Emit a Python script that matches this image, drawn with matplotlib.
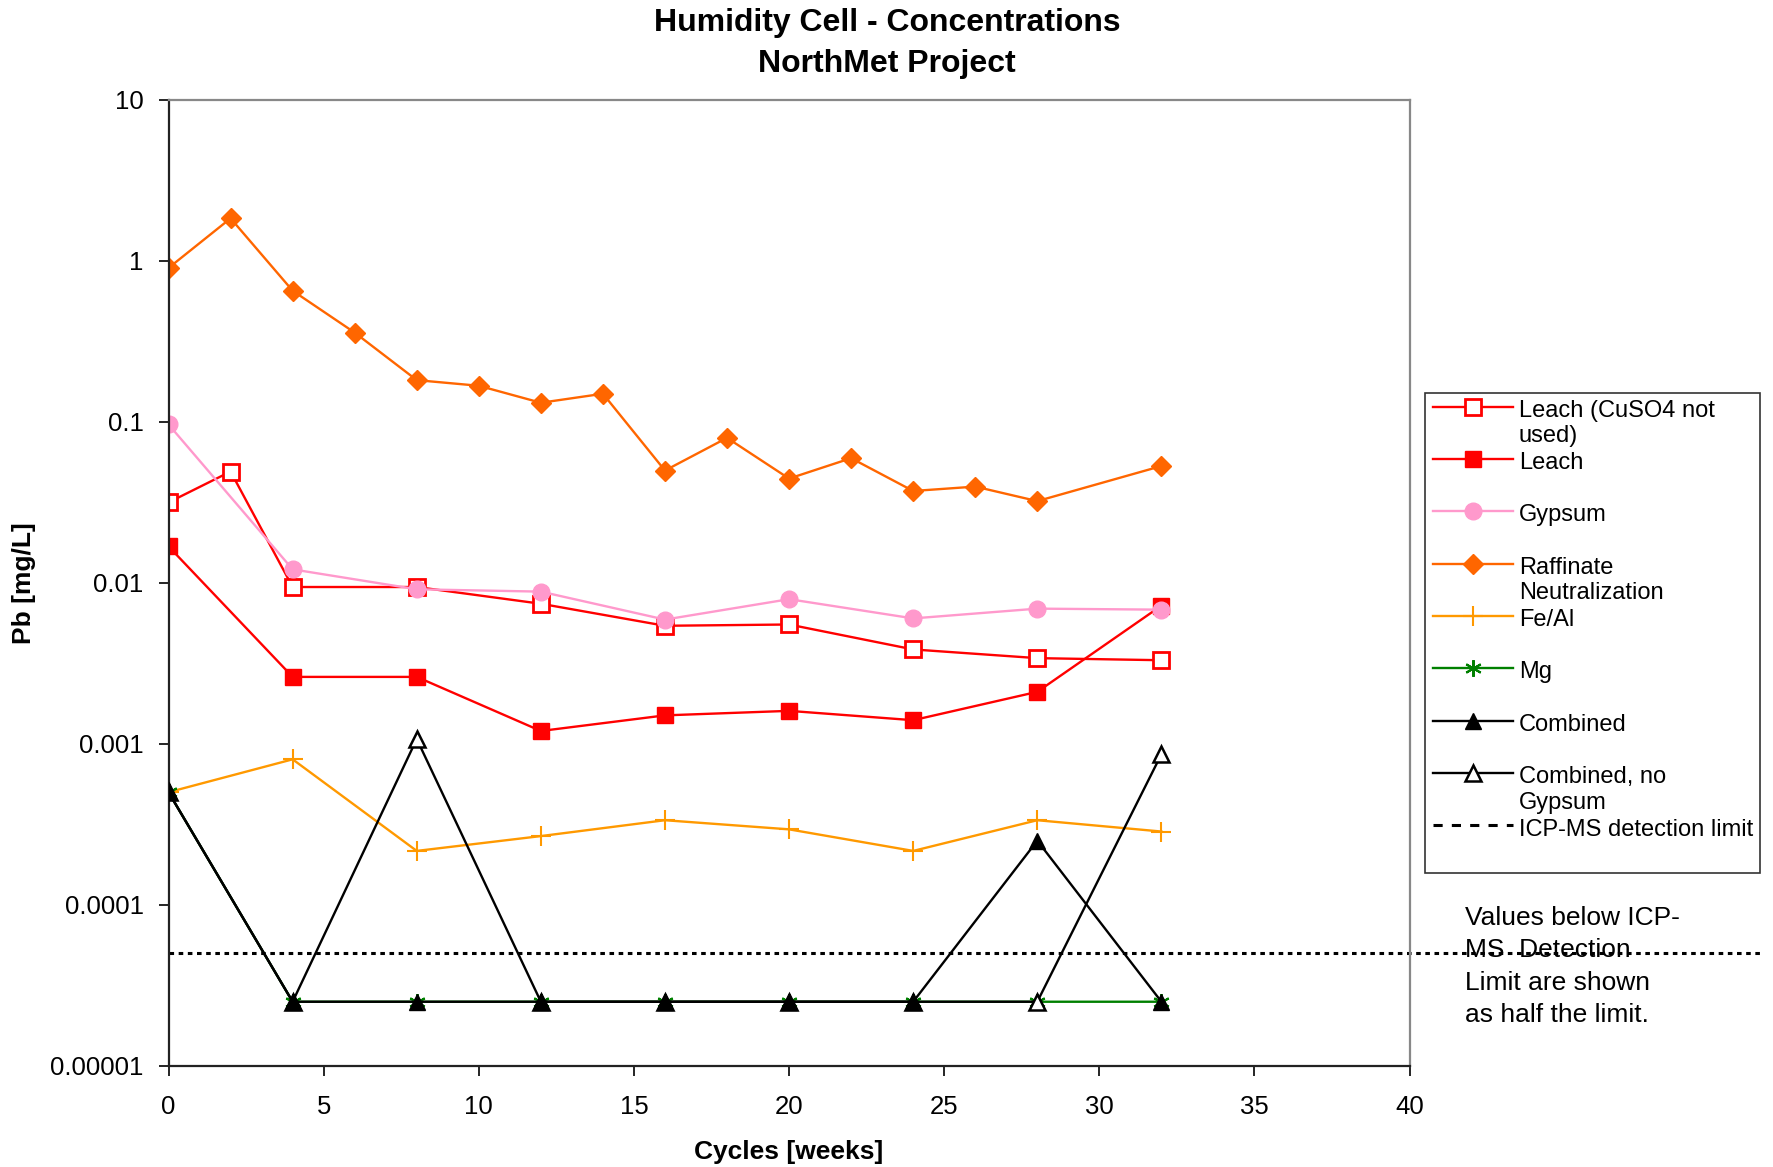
import matplotlib
matplotlib.use("Agg")
import numpy as np
import matplotlib.pyplot as plt
from matplotlib.lines import Line2D
from matplotlib.legend_handler import HandlerLine2D

plt.rcParams['font.family'] = ['Liberation Sans', 'DejaVu Sans']

# ---- data (Pb, mg/L) ----
x_leach_nocu = [0, 2, 4, 8, 12, 16, 20, 24, 28, 32]
y_leach_nocu = [0.0315, 0.049, 0.0094, 0.0094, 0.0074, 0.0054, 0.0055, 0.00385, 0.0034, 0.0033]

x_weekly = [0, 4, 8, 12, 16, 20, 24, 28, 32]
y_leach = [0.0168, 0.0026, 0.0026, 0.0012, 0.0015, 0.0016, 0.0014, 0.0021, 0.0072]
y_gypsum = [0.096, 0.0121, 0.0091, 0.0088, 0.0059, 0.0079, 0.0060, 0.0069, 0.0068]
y_feal = [0.0005, 0.0008, 0.000216, 0.000267, 0.000335, 0.000294, 0.000216, 0.000335, 0.000285]
y_mg = [0.0005, 0.000025, 0.000025, 0.000025, 0.000025, 0.000025, 0.000025, 0.000025, 0.000025]
y_combined = [0.0005, 0.000025, 0.000025, 0.000025, 0.000025, 0.000025, 0.000025, 0.00025, 0.000025]
y_comb_nogyp = [0.0005, 0.000025, 0.00107, 0.000025, 0.000025, 0.000025, 0.000025, 0.000025, 0.00086]

x_raff = [0, 2, 4, 6, 8, 10, 12, 14, 16, 18, 20, 22, 24, 26, 28, 32]
y_raff = [0.90, 1.83, 0.65, 0.357, 0.181, 0.167, 0.131, 0.149, 0.0497, 0.0793,
          0.0443, 0.0593, 0.0371, 0.0395, 0.0321, 0.053]

x_detect = [0, 51.3]
y_detect = [0.00005, 0.00005]

y_ticks = [10, 1, 0.1, 0.01, 0.001, 0.0001, 0.00001]
y_ticklabels = ['10', '1', '0.1', '0.01', '0.001', '0.0001', '0.00001']
x_ticks = [0, 5, 10, 15, 20, 25, 30, 35, 40]


# legend handle drawn level with the first line of a two-line label
class TopLineHandler(HandlerLine2D):
    def create_artists(self, legend, orig_handle, xdescent, ydescent,
                       width, height, fontsize, trans):
        artists = super().create_artists(legend, orig_handle, xdescent, ydescent,
                                         width, height, fontsize, trans)
        for a in artists:
            a.set_ydata(np.asarray(a.get_ydata()) + 0.72 * fontsize)
        return artists


# ---- figure ----
fig = plt.figure(figsize=(17.74, 11.67), dpi=100, facecolor='white')
ax = fig.add_axes([0.095, 0.0867, 0.6996, 0.828])

lw = 1.7
ax.plot(x_leach_nocu, y_leach_nocu, color='#FF0000', lw=lw, marker='s', ms=11,
        mfc='white', mec='#FF0000', mew=2, label='Leach (CuSO4 not\nused)')
ax.plot(x_weekly, y_leach, color='#FF0000', lw=lw, marker='s', ms=12,
        mfc='#FF0000', mec='#FF0000', label='Leach\n ')
ax.plot(x_weekly, y_gypsum, color='#FF99CC', lw=lw, marker='o', ms=12,
        mfc='#FF99CC', mec='#FF99CC', label='Gypsum\n ')
ax.plot(x_raff, y_raff, color='#FF6600', lw=lw, marker='D', ms=10,
        mfc='#FF6600', mec='#FF6600', label='Raffinate\nNeutralization')
ax.plot(x_weekly, y_feal, color='#FF9900', lw=lw, marker='+', ms=14, mew=1.5,
        label='Fe/Al\n ')
ax.plot(x_weekly, y_mg, color='#008000', lw=lw, marker=(6, 2, 0), ms=12, mew=1.5,
        label='Mg\n ')
# filled triangles sit on top of the open ones
ax.plot(x_weekly, y_combined, color='black', lw=lw, marker='^', ms=11,
        mfc='black', mec='black', label='Combined\n ', zorder=4)
ax.plot(x_weekly, y_comb_nogyp, color='black', lw=lw, marker='^', ms=11,
        mfc='white', mec='black', mew=1.8, label='Combined, no\nGypsum', zorder=3)
ax.plot(x_detect, y_detect, color='black', lw=2.2, ls=(0, (1.5, 1.5)),
        clip_on=False, label='ICP-MS detection limit\n ')

ax.set_yscale('log')
ax.set_ylim(0.00001, 10)
ax.set_xlim(0, 40)
ax.set_yticks(y_ticks)
ax.set_yticklabels(y_ticklabels)
ax.minorticks_off()
ax.set_xticks(x_ticks)

ax.tick_params(axis='both', direction='out', length=7, width=1.2, labelsize=18.5)
ax.tick_params(axis='x', pad=14)
ax.tick_params(axis='y', pad=11)

for side in ['left', 'bottom']:
    ax.spines[side].set_color('#222222')
    ax.spines[side].set_linewidth(1.6)
for side in ['top', 'right']:
    ax.spines[side].set_color('#888888')
    ax.spines[side].set_linewidth(1.6)

ax.set_xlabel('Cycles [weeks]', fontsize=19, fontweight='bold', labelpad=15)
ax.set_ylabel('Pb [mg/L]', fontsize=19, fontweight='bold', labelpad=10)

fig.text(0.5, 1 - 8 / 1167, 'Humidity Cell - Concentrations\nNorthMet Project',
         ha='center', va='top', fontsize=23, fontweight='bold', linespacing=1.48)

leg = ax.legend(loc='upper left', bbox_to_anchor=(1425.5 / 1774, 1 - 392.6 / 1167),
                bbox_transform=fig.transFigure, fontsize=17, frameon=True,
                fancybox=False, edgecolor='black', borderpad=0.3,
                handlelength=3.4, handletextpad=0.25, labelspacing=0.21,
                borderaxespad=0, handler_map={Line2D: TopLineHandler()})
leg.get_frame().set_linewidth(1.2)
leg.get_lines()[-1].set_linestyle((0, (3, 3)))

fig.text(1465 / 1774, 1 - 906 / 1167,
         'Values below ICP-\nMS  Detection\nLimit are shown\nas half the limit.',
         ha='left', va='top', fontsize=19, linespacing=1.445)

fig.savefig('out.png', dpi=100)
